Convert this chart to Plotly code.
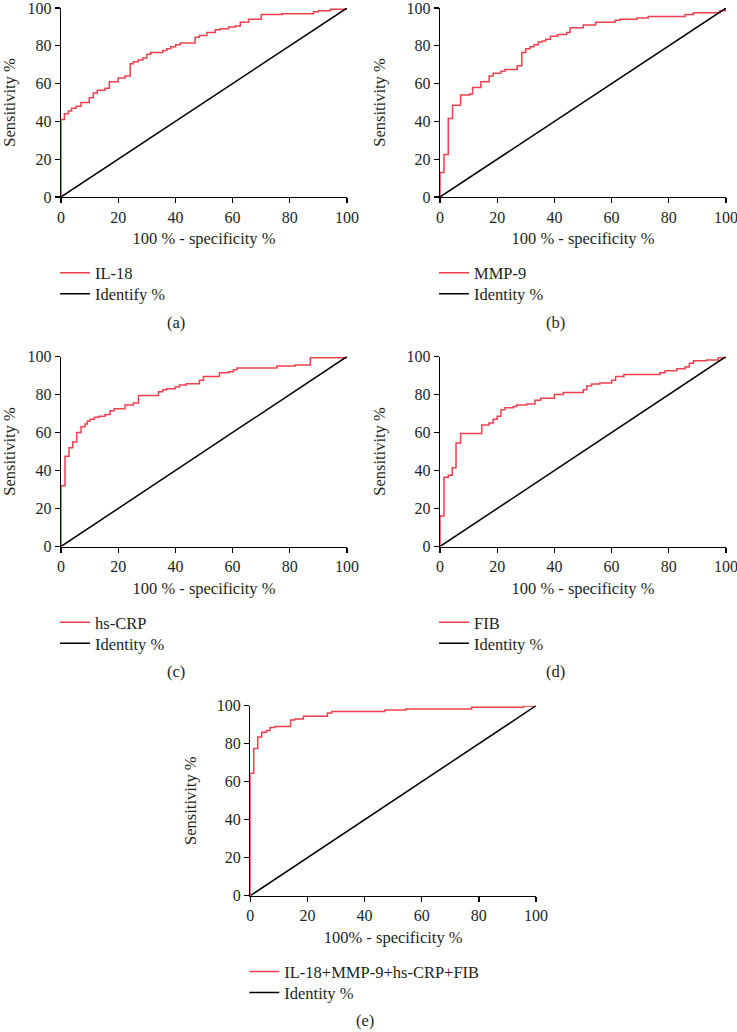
import plotly.graph_objects as go

# ---------------- data ----------------
TICKS = [0, 20, 40, 60, 80, 100]

il18_fpr = [0, 0, 1.2, 2.6, 3.7, 5.3, 7.0, 9.9, 11.3, 12.7, 15.4, 16.9, 20.0, 22.4, 24.2, 25.3, 27.0, 28.6, 30.0, 31.4,
            35.6, 37.0, 38.4, 40.1, 41.7, 46.9, 48.4, 51.0, 53.9, 55.7, 58.6, 60.9, 62.7, 65.6, 70.0, 77.2, 88.3, 90.0, 94.2, 100]
il18_tpr = [0, 41, 44, 45.5, 47, 48, 50, 52.5, 55, 56.5, 57.5, 61, 63, 64, 70.5, 71.5, 72.5, 73.5, 75.5, 76.5,
            77.5, 78.5, 79.5, 80.5, 81.5, 84.5, 85.5, 87, 88.5, 89, 90, 90.5, 92.5, 94, 96.5, 97, 98, 98.5, 99.3, 100]

mmp9_fpr = [0, 0, 1.4, 2.9, 4.4, 7.2, 10.3, 11.4, 14.3, 17.2, 18.6, 21.3, 22.7, 27.0, 28.6, 30.0, 31.5, 32.9, 34.4, 35.7,
            37.0, 38.6, 41.1, 44.3, 45.5, 50.1, 54.4, 61.2, 62.9, 68.8, 72.8, 85.7, 88.6, 97.9, 100]
mmp9_tpr = [0, 13, 22.5, 41.5, 48.5, 54, 54.5, 58, 61, 64, 65.5, 66.5, 67.5, 69.5, 76.5, 78.5, 79.5, 80.5, 82, 82.5,
            83.5, 85, 86, 87, 89.5, 91, 92.5, 93.5, 94, 94.7, 95.5, 96.5, 97.5, 98.5, 99.5]

crp_fpr = [0, 0, 1.4, 2.8, 4.1, 5.5, 7.0, 8.4, 9.2, 10.2, 11.7, 13.4, 15.4, 17.2, 18.6, 22.4, 25.3, 27.1, 34.1, 35.6,
           37.0, 39.9, 41.4, 43.8, 48.4, 49.8, 55.4, 58.6, 60.3, 61.5, 75.5, 81.9, 87.2, 100]
crp_tpr = [0, 32, 47.5, 52, 55, 60, 63, 64.5, 66, 67, 68, 68.5, 69.5, 71.5, 72.5, 74.5, 75.5, 79.5, 81.5, 82.5,
           83, 84, 85, 85.7, 87.5, 89.5, 91.5, 92, 93, 94, 95, 95.5, 99.3, 100]

fib_fpr = [0, 0, 1.4, 2.9, 4.3, 5.6, 7.2, 14.6, 17.1, 18.6, 20.0, 21.3, 22.7, 25.6, 26.8, 30.3, 33.2, 35.2, 40.0, 43.1,
           50.1, 51.3, 53.0, 55.9, 60.0, 61.4, 64.3, 76.9, 78.7, 82.8, 85.7, 87.2, 88.6, 93.2, 97.3, 100]
fib_tpr = [0, 16, 36.5, 37.5, 41.5, 54.5, 59.5, 64, 65, 67, 68.5, 72, 73, 73.7, 74.5, 75, 77, 78, 80, 81,
           82.5, 84.5, 85.5, 86, 87.5, 89.5, 90.5, 91.5, 92.5, 93.5, 94.5, 96.5, 97.7, 98.2, 99.3, 100]

comb_fpr = [0, 0, 1.2, 2.6, 4.0, 5.7, 6.9, 8.6, 14.1, 15.5, 18.6, 27.0, 28.5, 47.1, 54.4, 77.5, 95.6, 100]
comb_tpr = [0, 64.5, 77.5, 83.5, 86, 87, 88.5, 89, 92.5, 93, 94.5, 96.2, 97, 97.7, 98.3, 99.2, 99.8, 100]

identity_x = [0, 100]
identity_y = [0, 100]

names = ["IL-18", "MMP-9", "hs-CRP", "FIB", "IL-18+MMP-9+hs-CRP+FIB"]
identity_names = ["Identify %", "Identity %", "Identity %", "Identity %", "Identity %"]
xtitles = ["100 % - specificity %", "100 % - specificity %", "100 % - specificity %",
           "100 % - specificity %", "100% - specificity %"]
ytitle = "Sensitivity %"
panel_labels = ["(a)", "(b)", "(c)", "(d)", "(e)"]
curves = [(il18_fpr, il18_tpr), (mmp9_fpr, mmp9_tpr), (crp_fpr, crp_tpr), (fib_fpr, fib_tpr), (comb_fpr, comb_tpr)]

# ---------------- layout geometry (pixels of the 737x1032 page) ----------------
W, H = 737, 1032
# plot boxes: (left, right, top, bottom) in px
boxes = [(61, 347, 8, 197), (440, 726, 8, 197),
         (61, 347, 356.5, 546.5), (440, 726, 356.5, 546.5),
         (250.3, 536, 705.7, 895.7)]

RED = "#EE3F4F"
TXT = "#231F20"
FONT = "Liberation Serif"
FS = 16.5
TFS = 16


def leg_name(n):
    return "legend" if n == 1 else f"legend{n}"


fig = go.Figure()
layout = dict(width=W, height=H, margin=dict(l=0, r=0, t=0, b=0, autoexpand=False),
              paper_bgcolor="white", plot_bgcolor="white", showlegend=True,
              font=dict(family=FONT, size=FS, color=TXT), annotations=[])

for i, ((fx, ty), (L, R, T, B)) in enumerate(zip(curves, boxes)):
    k = i + 1
    xa = "x" if k == 1 else f"x{k}"
    ya = "y" if k == 1 else f"y{k}"
    leg_a = leg_name(2 * i + 1)
    leg_b = leg_name(2 * i + 2)
    fig.add_trace(go.Scatter(x=fx, y=ty, mode="lines", line=dict(color=RED, width=1.5, shape="hv"),
                             name=names[i], xaxis=xa, yaxis=ya, legend=leg_a, showlegend=True,
                             hoverinfo="skip"))
    fig.add_trace(go.Scatter(x=identity_x, y=identity_y, mode="lines", line=dict(color="black", width=1.5),
                             name=identity_names[i], xaxis=xa, yaxis=ya, legend=leg_b, showlegend=True,
                             hoverinfo="skip"))
    axis_common = dict(range=[0, 100], tickvals=TICKS, showgrid=False, zeroline=False,
                       showline=True, linecolor="black", linewidth=1.3, automargin=False,
                       ticks="outside", ticklen=5, tickwidth=1.3, tickcolor="black",
                       ticklabeloverflow="allow",
                       tickfont=dict(family=FONT, size=TFS, color=TXT), fixedrange=True)
    layout["xaxis" + ("" if k == 1 else str(k))] = dict(
        axis_common, domain=[L / W, R / W], anchor=ya,
        title=dict(text=xtitles[i], standoff=8, font=dict(family=FONT, size=FS, color=TXT)))
    layout["yaxis" + ("" if k == 1 else str(k))] = dict(
        axis_common, domain=[1 - B / H, 1 - T / H], anchor=xa,
        title=dict(text=ytitle, standoff=16, font=dict(family=FONT, size=FS, color=TXT)))
    for j, (lg, off) in enumerate([(leg_a, 76), (leg_b, 97)]):
        layout[lg] = dict(x=(L - 6) / W, xanchor="left", y=1 - (B + off) / H, yanchor="middle",
                          bgcolor="rgba(0,0,0,0)", borderwidth=0, visible=True,
                          font=dict(family=FONT, size=FS, color=TXT), itemclick=False, itemdoubleclick=False)
    layout["annotations"].append(dict(text=panel_labels[i], xref="paper", yref="paper",
                                      x=(L + (R - L) / 2 - 28) / W, y=1 - (B + 125) / H,
                                      xanchor="center", yanchor="middle", showarrow=False,
                                      font=dict(family=FONT, size=FS, color=TXT)))

fig.update_layout(**layout)
fig.write_html("out.html", config={"displayModeBar": False, "staticPlot": True},
               post_script="document.body.style.margin='0px';document.body.style.overflow='hidden';")
